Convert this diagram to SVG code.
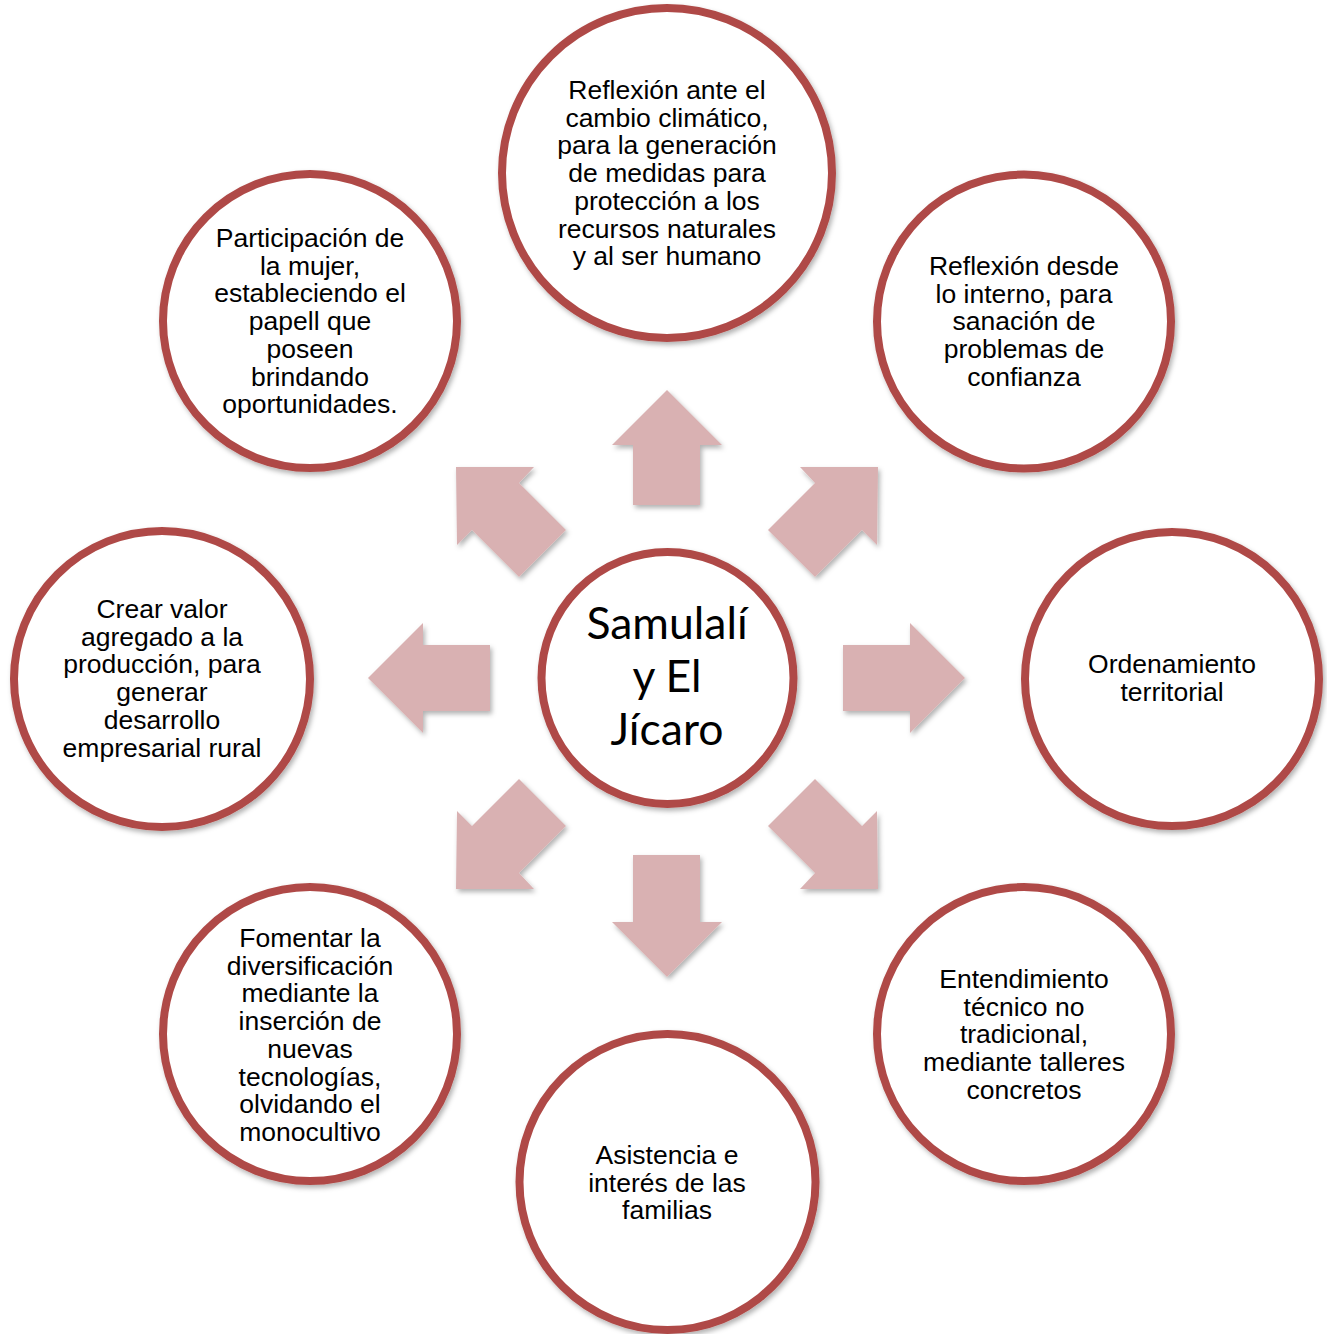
<svg xmlns="http://www.w3.org/2000/svg" width="1327" height="1334" viewBox="0 0 1327 1334">
<defs>
<filter id="sh" x="-20%" y="-20%" width="140%" height="140%">
<feDropShadow dx="2" dy="3" stdDeviation="2.5" flood-color="#000" flood-opacity="0.3"/>
</filter>
<style>
.node{fill:#ffffff;stroke:#AF4A47;stroke-width:8;filter:url(#sh)}
.arr{fill:#D9B1B2;filter:url(#sh)}
.t{font-family:"Liberation Sans",Arial,sans-serif;font-size:26.5px;fill:#000;text-anchor:middle}
.c{font-family:Lato,"Noto Sans",sans-serif;font-size:44.5px;fill:#000;text-anchor:middle}
</style>
</defs>
<rect width="1327" height="1334" fill="#ffffff"/>
<g id="connectors">
<polygon class="arr" points="667,390 722,445 700,445 700,505 633,505 633,445 612,445"/>
<polygon class="arr" points="633,855 700,855 700,922 722,922 667,977 612,922 633,922"/>
<polygon class="arr" points="843,645 910,645 910,623 965,678 910,733 910,711 843,711"/>
<polygon class="arr" points="490,645 423,645 423,623 368,678 423,733 423,711 490,711"/>
<polygon class="arr" points="800,467 815,483 768,530 815,577 862,530 877,545 878,467"/>
<polygon class="arr" points="534,467 519,483 566,530 519,577 472,530 457,545 456,467"/>
<polygon class="arr" points="800,889 815,873 768,826 815,779 862,826 877,811 878,889"/>
<polygon class="arr" points="534,889 519,873 566,826 519,779 472,826 457,811 456,889"/>
</g>
<g id="center">
<circle class="node" cx="667.5" cy="678" r="126"/>
<text class="c" x="667" y="639">Samulalí</text>
<text class="c" x="667" y="692">y El</text>
<text class="c" x="667" y="745">Jícaro</text>
</g>
<g id="n-top">
<circle class="node" cx="667" cy="173" r="165"/>
<text class="t" x="667" y="99">Reflexión ante el</text>
<text class="t" x="667" y="126.7">cambio climático,</text>
<text class="t" x="667" y="154.4">para la generación</text>
<text class="t" x="667" y="182.1">de medidas para</text>
<text class="t" x="667" y="209.8">protección a los</text>
<text class="t" x="667" y="237.5">recursos naturales</text>
<text class="t" x="667" y="265.2">y al ser humano</text>
</g>
<g id="n-topright">
<circle class="node" cx="1024" cy="321.5" r="147"/>
<text class="t" x="1024" y="275">Reflexión desde</text>
<text class="t" x="1024" y="302.7">lo interno, para</text>
<text class="t" x="1024" y="330.4">sanación de</text>
<text class="t" x="1024" y="358.1">problemas de</text>
<text class="t" x="1024" y="385.8">confianza</text>
</g>
<g id="n-right">
<circle class="node" cx="1172" cy="679" r="147"/>
<text class="t" x="1172" y="673">Ordenamiento</text>
<text class="t" x="1172" y="700.7">territorial</text>
</g>
<g id="n-bottomright">
<circle class="node" cx="1024" cy="1034" r="147"/>
<text class="t" x="1024" y="988">Entendimiento</text>
<text class="t" x="1024" y="1015.7">técnico no</text>
<text class="t" x="1024" y="1043.4">tradicional,</text>
<text class="t" x="1024" y="1071.1">mediante talleres</text>
<text class="t" x="1024" y="1098.8">concretos</text>
</g>
<g id="n-bottom">
<circle class="node" cx="667.5" cy="1182" r="148"/>
<text class="t" x="667" y="1164">Asistencia e</text>
<text class="t" x="667" y="1191.7">interés de las</text>
<text class="t" x="667" y="1219.4">familias</text>
</g>
<g id="n-bottomleft">
<circle class="node" cx="310" cy="1034" r="147"/>
<text class="t" x="310" y="947">Fomentar la</text>
<text class="t" x="310" y="974.7">diversificación</text>
<text class="t" x="310" y="1002.4">mediante la</text>
<text class="t" x="310" y="1030.1">inserción de</text>
<text class="t" x="310" y="1057.8">nuevas</text>
<text class="t" x="310" y="1085.5">tecnologías,</text>
<text class="t" x="310" y="1113.2">olvidando el</text>
<text class="t" x="310" y="1140.9">monocultivo</text>
</g>
<g id="n-left">
<circle class="node" cx="162" cy="679" r="148"/>
<text class="t" x="162" y="618">Crear valor</text>
<text class="t" x="162" y="645.7">agregado a la</text>
<text class="t" x="162" y="673.4">producción, para</text>
<text class="t" x="162" y="701.1">generar</text>
<text class="t" x="162" y="728.8">desarrollo</text>
<text class="t" x="162" y="756.5">empresarial rural</text>
</g>
<g id="n-topleft">
<circle class="node" cx="310" cy="321" r="147"/>
<text class="t" x="310" y="247">Participación de</text>
<text class="t" x="310" y="274.7">la mujer,</text>
<text class="t" x="310" y="302.4">estableciendo el</text>
<text class="t" x="310" y="330.1">papell que</text>
<text class="t" x="310" y="357.8">poseen</text>
<text class="t" x="310" y="385.5">brindando</text>
<text class="t" x="310" y="413.2">oportunidades.</text>
</g>
</svg>
